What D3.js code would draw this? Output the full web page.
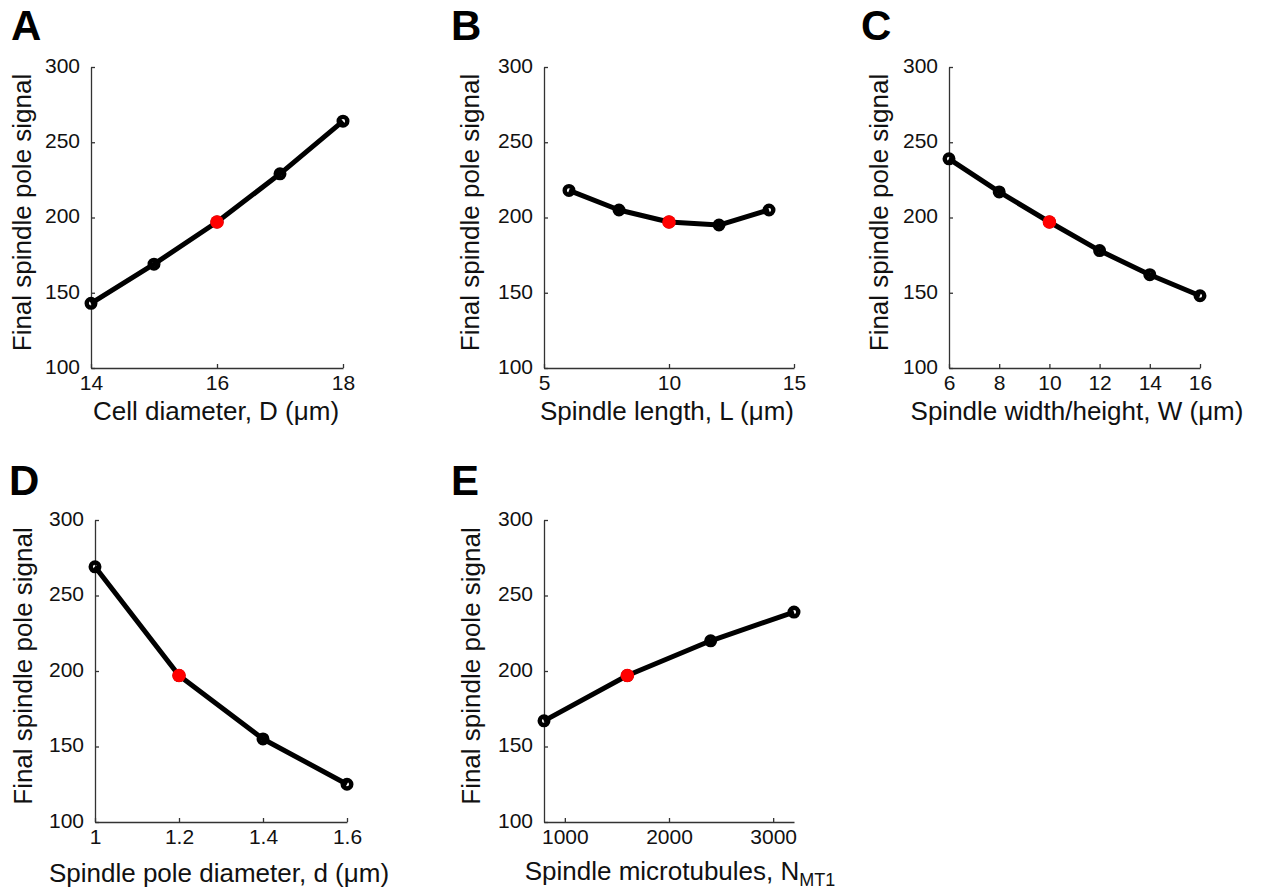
<!DOCTYPE html>
<html><head><meta charset="utf-8">
<script src="https://cdn.jsdelivr.net/npm/d3@7"></script>
<style>
body{margin:0;background:#fff;}
svg{display:block;font-family:"Liberation Sans",Arial,sans-serif;}
</style></head>
<body>
<svg id="c" width="1261" height="896"></svg>
<script>
// ---- data ----
const yTicks = [100,150,200,250,300];
const yLabel = "Final spindle pole signal";

const aX = [14,15,16,17,18];
const aY = [143,169,197,229,264];
const aTicks = [14,16,18];

const bX = [6,8,10,12,14];
const bY = [218,205,197,195,205];
const bTicks = [5,10,15];

const cX = [6,8,10,12,14,16];
const cY = [239,217,197,178,162,148];
const cTicks = [6,8,10,12,14,16];

const dX = [1,1.2,1.4,1.6];
const dY = [269,197,155,125];
const dTicks = [1,1.2,1.4,1.6];

const eX = [800,1600,2400,3200];
const eY = [167,197,220,239];
const eTicks = [1000,2000,3000];

// ---- layout ----
const panels = [
  {letter:"A", lx:11, ly:40, x0:91, x1:343, y0:67, y1:368, xd:[14,18], xs:aX, ys:aY, ticks:aTicks, ref:2, fmt:d=>d,
   ylx:31, xlabel:["Cell diameter, D (\u03bcm)"], xlx:216, xly:420},
  {letter:"B", lx:451, ly:40, x0:544, x1:794, y0:67, y1:368, xd:[5,15], xs:bX, ys:bY, ticks:bTicks, ref:2, fmt:d=>d,
   ylx:479, xlabel:["Spindle length, L (\u03bcm)"], xlx:667, xly:420},
  {letter:"C", lx:861, ly:40, x0:949, x1:1200, y0:67, y1:368, xd:[6,16], xs:cX, ys:cY, ticks:cTicks, ref:2, fmt:d=>d,
   ylx:888, xlabel:["Spindle width/height, W (\u03bcm)"], xlx:1077, xly:420},
  {letter:"D", lx:9, ly:495, x0:95, x1:347, y0:520, y1:822, xd:[1,1.6], xs:dX, ys:dY, ticks:dTicks, ref:1, fmt:d=>d3.format("~g")(d),
   ylx:32, xlabel:["Spindle pole diameter, d (\u03bcm)"], xlx:219, xly:882},
  {letter:"E", lx:451, ly:495, x0:544, x1:794, y0:520, y1:822, xd:[800,3200], xs:eX, ys:eY, ticks:eTicks, ref:1, fmt:d=>d,
   ylx:480, xlabel:["Spindle microtubules, N","MT1"], xlx:680, xly:880}
];

const svg = d3.select("#c");
const axisCol = "#333";

panels.forEach(p => {
  const g = svg.append("g");
  const x = d3.scaleLinear().domain(p.xd).range([p.x0, p.x1]);
  const y = d3.scaleLinear().domain([100,300]).range([p.y1, p.y0]);

  // panel letter
  svg.append("text").attr("x", p.lx).attr("y", p.ly)
    .attr("font-size", 42).attr("font-weight", "bold").text(p.letter);

  // y axis
  const ya = g.append("g").attr("transform", `translate(${p.x0},0)`)
    .call(d3.axisLeft(y).tickValues(yTicks).tickSizeInner(-4).tickSizeOuter(0).tickPadding(11));
  ya.selectAll(".tick text").attr("dy", "0.25em");
  // x axis
  const xa = g.append("g").attr("transform", `translate(0,${p.y1})`)
    .call(d3.axisBottom(x).tickValues(p.ticks).tickFormat(p.fmt).tickSizeInner(-4).tickSizeOuter(0).tickPadding(7));
  [ya, xa].forEach(a => {
    a.select(".domain").attr("stroke", axisCol).attr("stroke-width", 1.3);
    a.selectAll(".tick line").attr("stroke", axisCol).attr("stroke-width", 1.3);
    a.selectAll(".tick text").attr("font-size", 21).attr("fill", "#111")
      .attr("font-family", "'Liberation Sans',Arial,sans-serif");
  });

  // y label
  svg.append("text")
    .attr("transform", `translate(${p.ylx},${(p.y0+p.y1)/2 - 5}) rotate(-90)`)
    .attr("text-anchor", "middle").attr("font-size", 26).attr("fill", "#111")
    .text(yLabel);

  // x label
  const xl = svg.append("text").attr("x", p.xlx).attr("y", p.xly)
    .attr("text-anchor", "middle").attr("font-size", 26).attr("fill", "#111");
  xl.append("tspan").text(p.xlabel[0]);
  if (p.xlabel[1]) {
    xl.append("tspan").attr("font-size", 18).attr("dy", 6).text(p.xlabel[1]);
  }

  // data
  const pts = p.xs.map((v,i) => [v, p.ys[i]]);
  const line = d3.line().x(d => x(d[0])).y(d => y(d[1]));
  g.append("path").datum(pts).attr("d", line)
    .attr("fill", "none").attr("stroke", "#000").attr("stroke-width", 5)
    .attr("stroke-linejoin", "round");
  g.selectAll("circle.m").data(pts).enter().append("circle")
    .attr("class", "m")
    .attr("cx", d => x(d[0])).attr("cy", d => y(d[1]))
    .attr("r", 4.3).attr("fill", "none").attr("stroke", "#000").attr("stroke-width", 4.4);
  g.append("circle")
    .attr("cx", x(pts[p.ref][0])).attr("cy", y(pts[p.ref][1]))
    .attr("r", 6.8).attr("fill", "#ff0000");
});
</script>
</body></html>
